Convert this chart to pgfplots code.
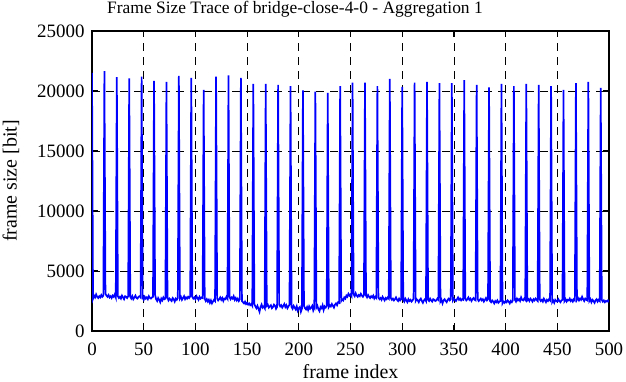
\documentclass[border=0pt]{standalone}
\usepackage{pgfplots}
\pgfplotsset{compat=1.18}
\usepackage{pgfplotstable}
\usepackage{fontspec}
\setmainfont{Liberation Serif}

\pgfplotstableread[row sep=\\]{
y\\
21500\\2700\\2950\\2800\\3050\\2850\\2750\\2900\\2800\\3000\\2850\\2950\\
21650\\3100\\2950\\2850\\3000\\2800\\2900\\2750\\2950\\2850\\3050\\2800\\
21150\\2900\\2750\\2850\\2700\\2950\\2800\\2650\\2900\\2850\\2750\\2900\\
21050\\2850\\2700\\2900\\2650\\2800\\2950\\2750\\2700\\2850\\2900\\2800\\
21200\\2750\\2600\\2850\\2700\\2800\\2650\\2900\\2750\\2700\\2800\\2850\\
20850\\3000\\2650\\2500\\2750\\2600\\2400\\2700\\2550\\2800\\2650\\2700\\
20750\\2800\\2550\\2700\\2600\\2500\\2750\\2650\\2450\\2700\\2600\\2750\\
21250\\2700\\2850\\2600\\2750\\2900\\2650\\2800\\2700\\2850\\2750\\2900\\
21100\\2850\\2700\\2800\\2650\\2900\\2750\\2600\\2850\\2700\\2800\\2750\\
20100\\2700\\2500\\2650\\2450\\2600\\2350\\2550\\2300\\2450\\2600\\2500\\
21200\\2700\\2550\\2650\\2800\\2600\\2750\\2500\\2700\\2650\\2850\\2700\\
21300\\2850\\2650\\2800\\2700\\2900\\2600\\2750\\2550\\2700\\2500\\2650\\
21100\\2500\\2400\\2300\\2450\\2250\\2350\\2200\\2300\\2150\\2250\\2100\\
20600\\2250\\2050\\1900\\2100\\1850\\1600\\2000\\2200\\1950\\2050\\1900\\
20600\\2100\\2200\\1950\\2050\\2150\\1900\\2000\\2200\\2100\\1850\\2000\\
20500\\2200\\2050\\2150\\1950\\2100\\2250\\2000\\2150\\1900\\2050\\2200\\
20400\\2000\\1850\\2100\\1950\\1800\\2050\\1700\\1900\\2000\\1600\\1850\\
20050\\2100\\1900\\1800\\2000\\1750\\2050\\1850\\1950\\2100\\1700\\1900\\
19950\\1950\\2100\\1800\\1650\\2000\\1900\\2150\\1750\\2050\\1950\\2100\\
19850\\2000\\2150\\2050\\2250\\2100\\1950\\2200\\2300\\2150\\2400\\2350\\
20400\\2500\\2650\\2550\\2800\\2700\\2950\\2850\\3100\\2950\\3050\\2900\\
20700\\3050\\2900\\3150\\2950\\2850\\3000\\2900\\3100\\2950\\2850\\3000\\
20700\\2950\\2800\\3000\\2850\\2750\\2900\\2800\\2950\\2700\\2850\\2750\\
20400\\2800\\2650\\2750\\2600\\2850\\2700\\2550\\2750\\2650\\2800\\2700\\
21000\\2750\\2600\\2700\\2550\\2650\\2800\\2600\\2500\\2700\\2550\\2650\\
20350\\2600\\2450\\2700\\2550\\2400\\2650\\2500\\2600\\2450\\2550\\2700\\
20700\\2500\\2650\\2550\\2400\\2600\\2700\\2500\\2350\\2550\\2650\\2500\\
20750\\2600\\2500\\2700\\2550\\2450\\2650\\2600\\2500\\2550\\2700\\2600\\
20650\\2450\\2600\\2300\\2550\\2650\\2500\\2400\\2600\\2700\\2550\\2650\\
20650\\2550\\2700\\2600\\2500\\2650\\2800\\2600\\2700\\2550\\2650\\2600\\
20900\\2700\\2550\\2650\\2800\\2600\\2700\\2500\\2650\\2750\\2600\\2550\\
20500\\2650\\2500\\2600\\2700\\2550\\2650\\2450\\2600\\2750\\2550\\2650\\
20300\\2500\\2400\\2550\\2450\\2300\\2500\\2400\\2550\\2350\\2450\\2500\\
20600\\2300\\2450\\2350\\2500\\2400\\2550\\2450\\2300\\2500\\2400\\2550\\
20400\\2600\\2450\\2700\\2550\\2650\\2500\\2800\\2600\\2550\\2700\\2600\\
20600\\2550\\2650\\2500\\2700\\2600\\2450\\2650\\2550\\2700\\2600\\2500\\
20500\\2650\\2500\\2600\\2450\\2700\\2550\\2400\\2600\\2500\\2650\\2550\\
20400\\2400\\2550\\2350\\2600\\2500\\2450\\2650\\2500\\2400\\2550\\2600\\
20100\\2500\\2650\\2450\\2600\\2550\\2700\\2500\\2600\\2450\\2650\\2550\\
20650\\2600\\2750\\2550\\2700\\2600\\2850\\2650\\2500\\2700\\2600\\2550\\
20750\\2500\\2650\\2400\\2600\\2500\\2350\\2550\\2650\\2450\\2600\\2500\\
20250\\2600\\2450\\2550\\2400\\2500\\2450\\2550\\2400\\
}\frames

\begin{document}
\begin{tikzpicture}
\path[use as bounding box] (-92bp,-51bp) rectangle (534bp,331bp);
\begin{axis}[
  at={(0,0)}, anchor=south west,
  scale only axis, width=517bp, height=300bp,
  xmin=0, xmax=500, ymin=0, ymax=25000,
  xtick={0,50,...,500}, ytick={0,5000,...,25000},
  scaled y ticks=false,
  /pgf/number format/1000 sep={},
  /pgf/number format/assume math mode=true,
  grid=major,
  major grid style={black, line width=0.8bp, dash pattern=on 8bp off 6bp},
  axis line style={black, line width=1.8bp},
  tick style={black, line width=1.2bp},
  major tick length=6bp, tick align=inside,
  ticklabel style={font=\fontsize{19}{22}\selectfont},
  xticklabel style={anchor=base, yshift=-24bp},
  yticklabel style={xshift=-4bp},
  label style={font=\fontsize{20}{24}\selectfont},
  xlabel={frame index},
  xlabel style={at={(axis description cs:0.5,0)}, anchor=base, yshift=-47bp},
  ylabel={frame size [bit]},
  ylabel style={at={(axis description cs:0,0.5)}, anchor=center, rotate=0, yshift=81bp},
  title={Frame Size Trace of bridge-close-4-0 - Aggregation 1},
  title style={at={(axis description cs:0.3926,1)}, anchor=base, inner sep=0pt, yshift=12bp, font=\fontsize{17.5}{20}\selectfont},
]
\addplot[blue, line width=1.7bp] table[x expr=\coordindex, y=y] {\frames};
\end{axis}
\end{tikzpicture}
\end{document}
